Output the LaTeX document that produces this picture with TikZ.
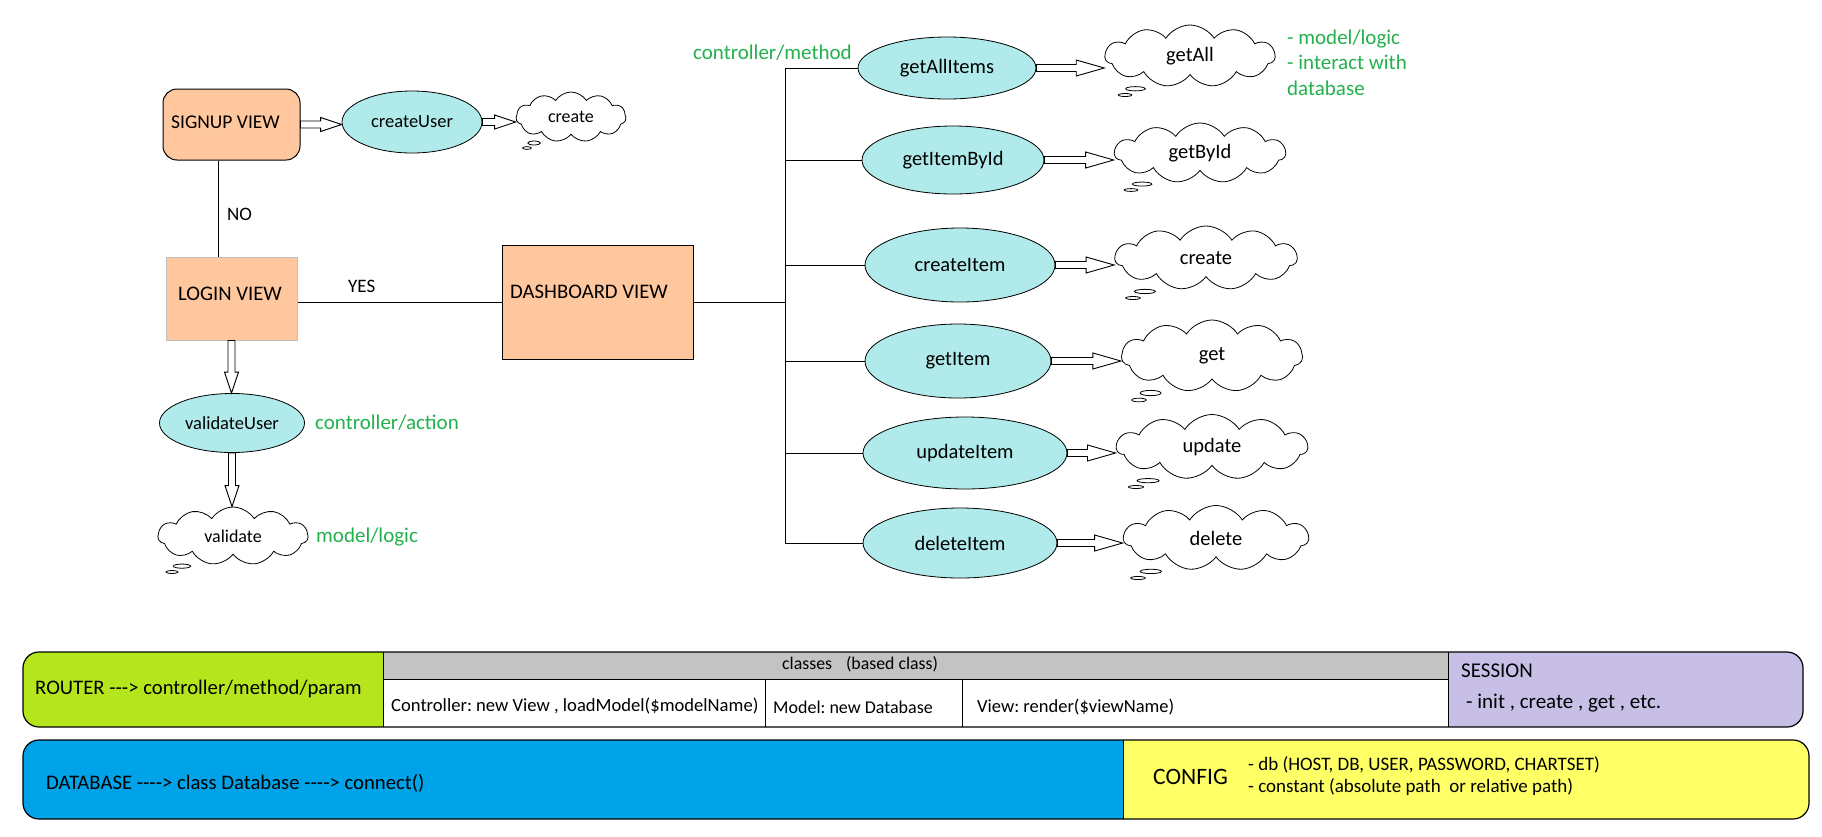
\documentclass[tikz,border=0pt]{standalone}
\usepackage{fontspec}
\setmainfont{Carlito}
\usetikzlibrary{shapes.geometric,shapes.symbols,shapes.callouts,calc}
\definecolor{peach}{RGB}{255,199,158}
\definecolor{cyanfill}{RGB}{176,234,234}
\definecolor{textgreen}{RGB}{34,177,76}
\definecolor{routergreen}{RGB}{181,230,29}
\definecolor{hdrgray}{RGB}{195,195,195}
\definecolor{lav}{RGB}{200,191,231}
\definecolor{dbblue}{RGB}{0,162,232}
\definecolor{cfgyellow}{RGB}{255,255,102}
\definecolor{loginborder}{RGB}{190,190,190}
\newcommand\fsz[2]{\fontsize{#1}{#2}\selectfont}
\frenchspacing
\begin{document}
\begin{tikzpicture}[x=1pt,y=-1pt,
  viewbox/.style={draw=black, line width=1pt, fill=peach, inner sep=0pt},
  boxtext/.style={inner sep=0pt, font={\fsz{20.7}{24}}},
  ellL/.style={ellipse, draw=black, line width=0.8pt, fill=cyanfill, inner sep=0pt, font={\fsz{18.5}{22}}},
  ellR/.style={ellipse, draw=black, line width=0.8pt, fill=cyanfill, inner sep=0pt, font={\fsz{20.5}{24}}},
  cloudbase/.style={cloud callout, draw=black, line width=0.8pt, fill=white, cloud puffs=11, cloud puff arc=115, cloud ignores aspect, callout pointer segments=2, callout pointer start size=.15 of callout, callout pointer end size=.08 of callout, inner sep=0pt},
  cloudL/.style={cloudbase, font={\fsz{18}{21}}},
  cloudR/.style={cloudbase, font={\fsz{20.5}{24}}},
  greentext/.style={text=textgreen, inner sep=0pt, anchor=west, font={\fsz{21}{25.5}}},
  lbl/.style={inner sep=0pt, anchor=west, font={\fsz{19}{23}}},
  paneltext/.style={inner sep=0pt, anchor=west, font={\fsz{18.5}{22}}},
  bigpanel/.style={paneltext, font={\fsz{20.7}{24}}},
  conn/.style={draw=black, line width=1pt},
  hollow/.style n args={3}{draw=black, fill=white, line width=0.9pt, line join=miter, to path={
    ($(\tikztostart)!#1!-90:(\tikztotarget)$) --
    ($(\tikztotarget)!#3!(\tikztostart)!#1!90:(\tikztostart)$) --
    ($(\tikztotarget)!#3!(\tikztostart)!#2!90:(\tikztostart)$) --
    (\tikztotarget) --
    ($(\tikztotarget)!#3!(\tikztostart)!#2!-90:(\tikztostart)$) --
    ($(\tikztotarget)!#3!(\tikztostart)!#1!-90:(\tikztostart)$) --
    ($(\tikztostart)!#1!90:(\tikztotarget)$) -- cycle}},
  hollowS/.style={hollow={3.5pt}{7pt}{21pt}},
  hollowR/.style={hollow={3.5pt}{8pt}{28pt}}
]
\useasboundingbox (0,0) rectangle (1822,836);
\fill[white] (0,0) rectangle (1822,836);

% ---------- left part ----------
\node[viewbox, rounded corners=14pt, minimum width=137pt, minimum height=71pt] (signup) at (231.5,124.5) {};
\node[boxtext, anchor=west, font={\fsz{19.5}{23}}] (signuptxt) at (171,122) {SIGNUP VIEW};
\node[viewbox, draw=loginborder, minimum width=131pt, minimum height=83pt] (login) at (231.5,298.5) {};
\node[boxtext] (logintxt) at (230,294) {LOGIN VIEW};
\node[viewbox, minimum width=191pt, minimum height=114pt] (dash) at (597.5,302) {};
\node[boxtext, anchor=west] (dashtxt) at (510,292) {DASHBOARD VIEW};

\node[ellL, minimum width=140pt, minimum height=62pt] (cu) at (412,122) {createUser};
\node[ellL, minimum width=145pt, minimum height=59pt] (vu) at (232,423) {validateUser};

\node[cloudL, minimum width=110pt, minimum height=50pt, callout absolute pointer={(527,148)}] (cl1) at (571,117) {create};
\node[cloudL, minimum width=150pt, minimum height=58pt, callout absolute pointer={(172,572)}] (cl2) at (233,536) {validate};

\draw[conn] ([xshift=-13pt]signup.south) -- ([xshift=-13pt]login.north);
\node[lbl] (no) at (227,214) {NO};
\draw[conn] (login.east |- dash.west) -- (dash.west);
\node[lbl] (yes) at (348,286) {YES};

\coordinate (t1) at (signup.east -| cu.west);
\draw[hollowS] (signup.east) to (t1);
\coordinate (t2) at (cu.east -| cl1.west);
\draw[hollowS] (cu.east) to (t2);
\coordinate (t3) at (login.south |- vu.north);
\draw[hollowS] (login.south) to (t3);
\coordinate (t4) at (vu.south |- cl2.north);
\draw[hollowS] (vu.south) to (t4);

\node[greentext] (ctrlaction) at (315,423) {controller/action};
\node[greentext] (modellogic) at (316,537) {model/logic};

% ---------- right part ----------
\node[ellR, minimum width=178pt, minimum height=62pt] (e1) at (947,68) {getAllItems};
\node[ellR, minimum width=182pt, minimum height=68pt] (e2) at (953,160) {getItemById};
\node[ellR, minimum width=190pt, minimum height=74pt] (e3) at (960,265) {createItem};
\node[ellR, minimum width=186pt, minimum height=74pt] (e4) at (958,361) {getItem};
\node[ellR, minimum width=204pt, minimum height=72pt] (e5) at (965,453) {updateItem};
\node[ellR, minimum width=194pt, minimum height=70pt] (e6) at (960,543) {deleteItem};

\node[cloudR, minimum width=170pt, minimum height=62pt, callout absolute pointer={(1125,95)}] (c1) at (1190,56) {getAll};
\node[cloudR, minimum width=171pt, minimum height=60pt, callout absolute pointer={(1131,190)}] (c2) at (1200,153) {getById};
\node[cloudR, minimum width=182pt, minimum height=64pt, callout absolute pointer={(1133,298)}] (c3) at (1206,258) {create};
\node[cloudR, minimum width=181pt, minimum height=72pt, callout absolute pointer={(1139,400)}] (c4) at (1212,356) {get};
\node[cloudR, minimum width=191pt, minimum height=65pt, callout absolute pointer={(1136,487)}] (c5) at (1212,447) {update};
\node[cloudR, minimum width=185pt, minimum height=65pt, callout absolute pointer={(1138,578)}] (c6) at (1216,538) {delete};

\coordinate (trunk) at (785,0);
\draw[conn] (e1.west -| trunk) -- (e6.west -| trunk);
\draw[conn] (dash.east) -- (dash.east -| trunk);
\foreach \e in {e1,e2,e3,e4,e5,e6}{
  \draw[conn] (\e.west -| trunk) -- (\e.west);
}
\foreach \e/\c in {e1/c1,e2/c2,e3/c3,e4/c4,e5/c5,e6/c6}{
  \coordinate (tip\c) at (\e.east -| \c.west);
  \draw[hollowR] (\e.east) to (tip\c);
}

\node[greentext] (ctrlmethod) at (693,53) {controller/method};
\node[greentext, align=left] (modelnote) at (1287,62.5) {- model/logic\\- interact with\\database};

% ---------- bottom panels ----------
\begin{scope}
  \clip[rounded corners=16pt] (23,652) rectangle (1803,727);
  \fill[routergreen] (23,652) rectangle (383,727);
  \fill[hdrgray] (383,652) rectangle (1448,679);
  \fill[white] (383,679) rectangle (1448,727);
  \fill[lav] (1448,652) rectangle (1803,727);
\end{scope}
\draw[line width=0.8pt] (383,652) -- (383,727);
\draw[line width=0.8pt] (1448,652) -- (1448,727);
\draw[line width=1pt] (383,679) -- (1448,679);
\draw[line width=1pt] (765,679) -- (765,727);
\draw[line width=1pt] (962,679) -- (962,727);
\draw[line width=1.2pt, rounded corners=16pt] (23,652) rectangle (1803,727);

\begin{scope}
  \clip[rounded corners=16pt] (23,740) rectangle (1809,819);
  \fill[dbblue] (23,740) rectangle (1123,819);
  \fill[cfgyellow] (1123,740) rectangle (1809,819);
\end{scope}
\draw[line width=0.8pt] (1123,740) -- (1123,819);
\draw[line width=1.2pt, rounded corners=16pt] (23,740) rectangle (1809,819);

\node[bigpanel] (router) at (35,689) {ROUTER -{}-{}-> controller/method/param};
\node[paneltext, font={\fsz{17.8}{21}}] (classes) at (782,664) {classes\hspace{14pt}(based class)};
\node[paneltext, font={\fsz{18.6}{22}}] (ctrlcell) at (391,706) {Controller: new View , loadModel(\$modelName)};
\node[paneltext, font={\fsz{18}{22}}] (modelcell) at (773,707) {Model: new Database};
\node[paneltext] (viewcell) at (977,707) {View: render(\$viewName)};
\node[paneltext, font={\fsz{21}{25}}] (session) at (1461,671) {SESSION};
\node[paneltext, font={\fsz{21}{25}}] (sessionops) at (1466,703) {- init , create , get , etc.};
\node[bigpanel] (database) at (46,783) {DATABASE -{}-{}-{}-> class Database -{}-{}-{}-> connect()};
\node[paneltext, font={\fsz{23.5}{27}}] (config) at (1153,777) {CONFIG};
\node[paneltext, font={\fsz{19}{22}}] (cfgdb) at (1248,765) {- db (HOST, DB, USER, PASSWORD, CHARTSET)};
\node[paneltext, font={\fsz{19}{22}}] (cfgconst) at (1248,787) {- constant (absolute path\ \ or relative path)};
\end{tikzpicture}
\end{document}
